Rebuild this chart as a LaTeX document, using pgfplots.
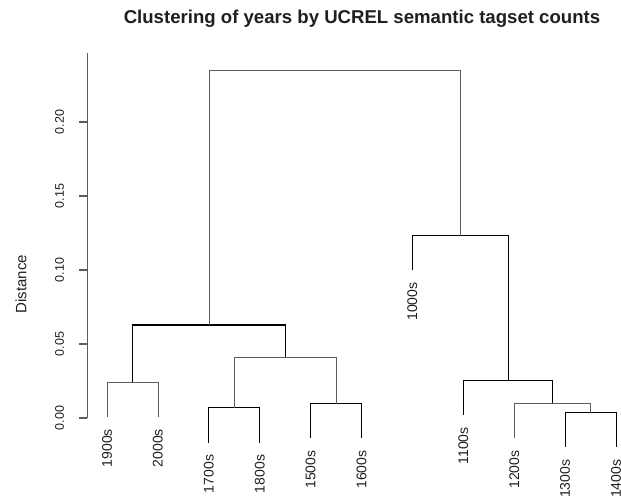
\documentclass[border=0pt]{standalone}
\usepackage{fontspec}
\setmainfont{Liberation Sans}
\usepackage{pgfplots}
\pgfplotsset{compat=1.18}

\definecolor{treeline}{gray}{0.36}
\definecolor{inktext}{gray}{0.12}

\begin{document}
\begin{tikzpicture}
\useasboundingbox (0bp,0bp) rectangle (621bp,497bp);

% title and axis label
\node[anchor=base, font=\bfseries\fontsize{18.6bp}{20bp}\selectfont, text=inktext]
  at (362bp,473bp) {Clustering of years by UCREL semantic tagset counts};
\node[rotate=90, font=\fontsize{15bp}{17bp}\selectfont, text=inktext]
  at (21bp,213bp) {Distance};

\begin{axis}[
  at={(87.3bp,79bp)}, anchor=south west,
  scale only axis,
  width=549.1bp, height=365bp,
  xmin=0.613, xmax=11.4,
  ymin=0, ymax=0.2466,
  clip=false,
  hide x axis,
  axis y line*=left,
  y axis line style={-, draw=treeline, line width=1.1bp},
  ytick={0,0.05,0.10,0.15,0.20},
  tick align=outside,
  major tick length=8bp,
  ytick style={draw=treeline, line width=1.1bp},
  yticklabel style={xshift=-15bp, rotate=90, anchor=south, inner sep=0pt,
    font=\fontsize{12.5bp}{14bp}\selectfont, text=inktext,
    /pgf/number format/.cd, fixed, fixed zerofill, precision=2,
    assume math mode=true},
  cycle list={{draw=treeline, line width=1.1bp, mark=none}},
]
% merges: child heights, merge height (leaves hang 0.0235 below their merge)
% 1900s + 2000s
\addplot coordinates {(1,0.0008) (1,0.0243) (2,0.0243) (2,0.0008)};
% 1700s + 1800s
\addplot coordinates {(3,-0.0167) (3,0.0068) (4,0.0068) (4,-0.0167)};
% 1500s + 1600s
\addplot coordinates {(5,-0.0138) (5,0.0097) (6,0.0097) (6,-0.0138)};
% (1700s,1800s) + (1500s,1600s)
\addplot coordinates {(3.5,0.0068) (3.5,0.0412) (5.5,0.0412) (5.5,0.0097)};
% (1900s,2000s) + early modern group
\addplot coordinates {(1.5,0.0243) (1.5,0.0628) (4.5,0.0628) (4.5,0.0412)};
% 1300s + 1400s
\addplot coordinates {(10,-0.0199) (10,0.0036) (11,0.0036) (11,-0.0199)};
% 1200s + (1300s,1400s)
\addplot coordinates {(9,-0.0137) (9,0.0098) (10.5,0.0098) (10.5,0.0036)};
% 1100s + (1200s..1400s)
\addplot coordinates {(8,0.0020) (8,0.0255) (9.75,0.0255) (9.75,0.0098)};
% 1000s + (1100s..1400s)
\addplot coordinates {(7,0.0997) (7,0.1232) (8.875,0.1232) (8.875,0.0255)};
% root
\addplot coordinates {(3,0.0628) (3,0.235) (7.9375,0.235) (7.9375,0.1232)};

% leaf labels, hung below the end of each leaf
\begin{scope}[every node/.style={yshift=-12bp, rotate=90, anchor=east, inner sep=0pt,
    font=\fontsize{14bp}{16bp}\selectfont, text=inktext}]
\node at (axis cs:1,0.0008) {1900s};
\node at (axis cs:2,0.0008) {2000s};
\node at (axis cs:3,-0.0167) {1700s};
\node at (axis cs:4,-0.0167) {1800s};
\node at (axis cs:5,-0.0138) {1500s};
\node at (axis cs:6,-0.0138) {1600s};
\node at (axis cs:7,0.0997) {1000s};
\node at (axis cs:8,0.0020) {1100s};
\node at (axis cs:9,-0.0137) {1200s};
\node at (axis cs:10,-0.0199) {1300s};
\node at (axis cs:11,-0.0199) {1400s};
\end{scope}
\end{axis}
\end{tikzpicture}
\end{document}
